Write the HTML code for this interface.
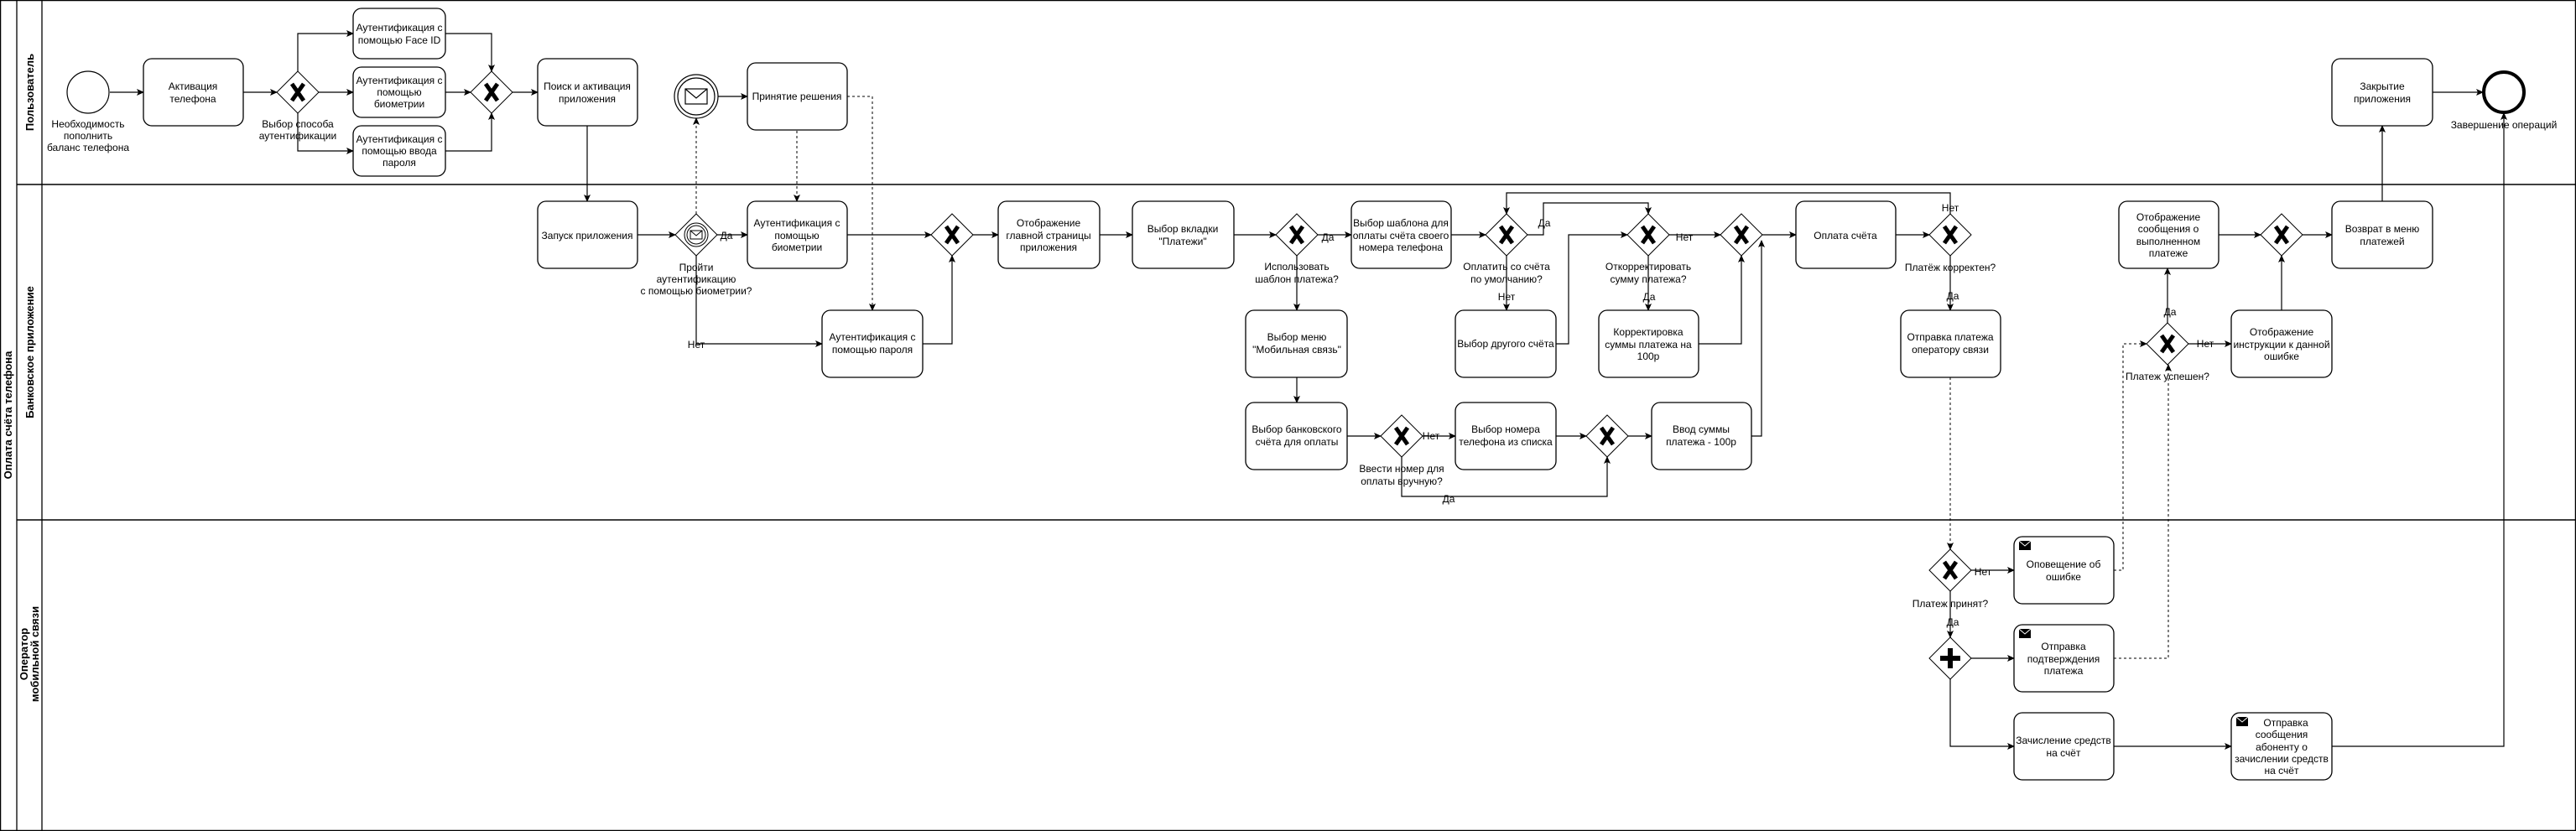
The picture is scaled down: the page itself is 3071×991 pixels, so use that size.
<!DOCTYPE html>
<html><head><meta charset="utf-8"><style>
html,body{margin:0;padding:0;background:#fff}
svg{display:block}
text{font-family:"Liberation Sans",Arial,sans-serif;font-size:12px;fill:#000}
.b{fill:#fff;stroke:#000;stroke-width:1.3}
.l{fill:none;stroke:#000;stroke-width:1.2}
.d{fill:none;stroke:#000;stroke-width:1;stroke-dasharray:3 3}
.g{fill:#fff;stroke:#000;stroke-width:1}
.x{stroke:#000;stroke-width:5;stroke-linecap:butt}
.lane{font-weight:bold;font-size:13px}
</style></head><body>
<svg width="3071" height="991" viewBox="0 0 3071 991" xmlns="http://www.w3.org/2000/svg">
<defs>
<marker id="a" markerWidth="10" markerHeight="10" refX="8" refY="5" orient="auto" markerUnits="userSpaceOnUse"><path d="M0,1 L9,5 L0,9 L2,5 Z" fill="#000"/></marker>
</defs>
<rect x="0.5" y="0.5" width="3070" height="990" fill="none" stroke="#000" stroke-width="1.5"/>
<line x1="20" y1="0" x2="20" y2="991" stroke="#000" stroke-width="1.3"/>
<line x1="50" y1="0" x2="50" y2="991" stroke="#000" stroke-width="1.3"/>
<line x1="20" y1="220" x2="3071" y2="220" stroke="#000" stroke-width="1.5"/>
<line x1="20" y1="620" x2="3071" y2="620" stroke="#000" stroke-width="1.5"/>
<text class="lane" transform="translate(14,495) rotate(-90)" text-anchor="middle">Оплата счёта телефона</text>
<text class="lane" transform="translate(40,110) rotate(-90)" text-anchor="middle">Пользователь</text>
<text class="lane" transform="translate(40,420) rotate(-90)" text-anchor="middle">Банковское приложение</text>
<text class="lane" transform="translate(33,780) rotate(-90)" text-anchor="middle">Оператор</text>
<text class="lane" transform="translate(46,780) rotate(-90)" text-anchor="middle">мобильной связи</text>

<g marker-end="url(#a)">
<path class="l" d="M131,110H171"/>
<path class="l" d="M290,110H330"/>
<path class="l" d="M355,85V40H421"/>
<path class="l" d="M380,110H421"/>
<path class="l" d="M355,135V180H421"/>
<path class="l" d="M531,40H586V85"/>
<path class="l" d="M531,110H561"/>
<path class="l" d="M531,180H586V135"/>
<path class="l" d="M611,110H641"/>
<path class="l" d="M700,150V240"/>
<path class="l" d="M760,280H805"/>
<path class="l" d="M856,115H891"/>
<path class="d" d="M830,255V141"/>
<path class="l" d="M855,280H891"/>
<path class="d" d="M950,156V240"/>
<path class="d" d="M1010,115H1040V370"/>
<path class="l" d="M830,305V410H980"/>
<path class="l" d="M1010,280H1110"/>
<path class="l" d="M1100,410H1135V305"/>
<path class="l" d="M1160,280H1190"/>
<path class="l" d="M1311,280H1350"/>
<path class="l" d="M1471,280H1521"/>
<path class="l" d="M1571,280H1611"/>
<path class="l" d="M1730,280H1771"/>
<path class="l" d="M1821,280H1840V242H1965V255"/>
<path class="l" d="M1796,305V370"/>
<path class="l" d="M1855,410H1870V280H1940"/>
<path class="l" d="M1990,280H2051"/>
<path class="l" d="M1965,305V370"/>
<path class="l" d="M2025,410H2076V305"/>
<path class="l" d="M2101,280H2141"/>
<path class="l" d="M2260,280H2300"/>
<path class="l" d="M2325,255V230H1796V255"/>
<path class="l" d="M2325,305V370"/>
<path class="l" d="M1546,305V370"/>
<path class="l" d="M1546,450V480"/>
<path class="l" d="M1606,520H1646"/>
<path class="l" d="M1696,520H1735"/>
<path class="l" d="M1855,520H1891"/>
<path class="l" d="M1671,545V592H1916V545"/>
<path class="l" d="M1941,520H1969"/>
<path class="l" d="M2088,520H2100V287"/>
<path class="d" d="M2325,450V655"/>
<path class="l" d="M2350,680H2401"/>
<path class="d" d="M2520,680H2531V410H2559"/>
<path class="l" d="M2325,705V760"/>
<path class="l" d="M2350,785H2401"/>
<path class="d" d="M2520,785H2585V435"/>
<path class="l" d="M2325,810V890H2401"/>
<path class="l" d="M2520,890H2660"/>
<path class="l" d="M2780,890H2985V135"/>
<path class="l" d="M2584,385V320"/>
<path class="l" d="M2609,410H2660"/>
<path class="l" d="M2720,370V305"/>
<path class="l" d="M2645,280H2695"/>
<path class="l" d="M2745,280H2780"/>
<path class="l" d="M2840,240V150"/>
<path class="l" d="M2900,110H2960"/>
</g>

<circle cx="105" cy="110" r="25" fill="#fff" stroke="#000" stroke-width="1.2"/>
<text x="105" y="152" text-anchor="middle"><tspan x="105">Необходимость</tspan><tspan x="105" dy="14">пополнить</tspan><tspan x="105" dy="14">баланс телефона</tspan></text>
<circle cx="830" cy="115" r="26" fill="#fff" stroke="#000" stroke-width="1.2"/>
<circle cx="830" cy="115" r="22" fill="#fff" stroke="#000" stroke-width="1.2"/>
<rect x="817" y="106" width="26" height="18" fill="#fff" stroke="#000" stroke-width="1.2"/>
<path d="M817,106 L830,117 L843,106" fill="none" stroke="#000" stroke-width="1.2"/>
<circle cx="2985" cy="110" r="24" fill="#fff" stroke="#000" stroke-width="4"/>
<text x="2985" y="153" text-anchor="middle">Завершение  операций</text>

<g>
<rect class="b" x="171" y="70" width="119" height="80" rx="10"/>
<text text-anchor="middle"><tspan x="230" y="107">Активация</tspan><tspan x="230" dy="15">телефона</tspan></text>
<rect class="b" x="421" y="10" width="110" height="60" rx="10"/>
<text text-anchor="middle"><tspan x="476" y="37">Аутентификация с</tspan><tspan x="476" dy="15">помощью Face ID</tspan></text>
<rect class="b" x="421" y="80" width="110" height="60" rx="10"/>
<text text-anchor="middle"><tspan x="476" y="100">Аутентификация с</tspan><tspan x="476" dy="14">помощью</tspan><tspan x="476" dy="14">биометрии</tspan></text>
<rect class="b" x="421" y="150" width="110" height="60" rx="10"/>
<text text-anchor="middle"><tspan x="476" y="170">Аутентификация с</tspan><tspan x="476" dy="14">помощью ввода</tspan><tspan x="476" dy="14">пароля</tspan></text>
<rect class="b" x="641" y="70" width="119" height="80" rx="10"/>
<text text-anchor="middle"><tspan x="700" y="107">Поиск и активация</tspan><tspan x="700" dy="15">приложения</tspan></text>
<rect class="b" x="891" y="75" width="119" height="80" rx="10"/>
<text text-anchor="middle" x="950" y="119">Принятие решения</text>
<rect class="b" x="641" y="240" width="119" height="80" rx="10"/>
<text text-anchor="middle" x="700" y="285">Запуск приложения</text>
<rect class="b" x="891" y="240" width="119" height="80" rx="10"/>
<text text-anchor="middle"><tspan x="950" y="270">Аутентификация с</tspan><tspan x="950" dy="15">помощью</tspan><tspan x="950" dy="14">биометрии</tspan></text>
<rect class="b" x="980" y="370" width="120" height="80" rx="10"/>
<text text-anchor="middle"><tspan x="1040" y="406">Аутентификация с</tspan><tspan x="1040" dy="15">помощью пароля</tspan></text>
<rect class="b" x="1190" y="240" width="121" height="80" rx="10"/>
<text text-anchor="middle"><tspan x="1250" y="270">Отображение</tspan><tspan x="1250" dy="15">главной страницы</tspan><tspan x="1250" dy="14">приложения</tspan></text>
<rect class="b" x="1350" y="240" width="121" height="80" rx="10"/>
<text text-anchor="middle"><tspan x="1410" y="277">Выбор вкладки</tspan><tspan x="1410" dy="15">"Платежи"</tspan></text>
<rect class="b" x="1611" y="240" width="119" height="80" rx="10"/>
<text text-anchor="middle"><tspan x="1670" y="270">Выбор шаблона для</tspan><tspan x="1670" dy="15">оплаты счёта своего</tspan><tspan x="1670" dy="14">номера телефона</tspan></text>
<rect class="b" x="1485" y="370" width="121" height="80" rx="10"/>
<text text-anchor="middle"><tspan x="1546" y="406">Выбор меню</tspan><tspan x="1546" dy="15">"Мобильная связь"</tspan></text>
<rect class="b" x="1485" y="480" width="121" height="80" rx="10"/>
<text text-anchor="middle"><tspan x="1546" y="516">Выбор банковского</tspan><tspan x="1546" dy="15">счёта для оплаты</tspan></text>
<rect class="b" x="1735" y="370" width="120" height="80" rx="10"/>
<text text-anchor="middle" x="1795" y="414">Выбор другого счёта</text>
<rect class="b" x="1906" y="370" width="119" height="80" rx="10"/>
<text text-anchor="middle"><tspan x="1965" y="400">Корректировка</tspan><tspan x="1965" dy="15">суммы платежа на</tspan><tspan x="1965" dy="14">100р</tspan></text>
<rect class="b" x="1735" y="480" width="120" height="80" rx="10"/>
<text text-anchor="middle"><tspan x="1795" y="516">Выбор номера</tspan><tspan x="1795" dy="15">телефона из списка</tspan></text>
<rect class="b" x="1969" y="480" width="119" height="80" rx="10"/>
<text text-anchor="middle"><tspan x="2028" y="516">Ввод суммы</tspan><tspan x="2028" dy="15">платежа - 100р</tspan></text>
<rect class="b" x="2141" y="240" width="119" height="80" rx="10"/>
<text text-anchor="middle" x="2200" y="285">Оплата счёта</text>
<rect class="b" x="2266" y="370" width="119" height="80" rx="10"/>
<text text-anchor="middle"><tspan x="2325" y="406">Отправка платежа</tspan><tspan x="2325" dy="15">оператору связи</tspan></text>
<rect class="b" x="2526" y="240" width="119" height="80" rx="10"/>
<text text-anchor="middle"><tspan x="2585" y="263">Отображение</tspan><tspan x="2585" dy="14">сообщения о</tspan><tspan x="2585" dy="15">выполненном</tspan><tspan x="2585" dy="14">платеже</tspan></text>
<rect class="b" x="2780" y="240" width="120" height="80" rx="10"/>
<text text-anchor="middle"><tspan x="2840" y="277">Возврат в меню</tspan><tspan x="2840" dy="15">платежей</tspan></text>
<rect class="b" x="2780" y="70" width="120" height="80" rx="10"/>
<text text-anchor="middle"><tspan x="2840" y="107">Закрытие</tspan><tspan x="2840" dy="15">приложения</tspan></text>
<rect class="b" x="2660" y="370" width="120" height="80" rx="10"/>
<text text-anchor="middle"><tspan x="2720" y="400">Отображение</tspan><tspan x="2720" dy="15">инструкции к данной</tspan><tspan x="2720" dy="14">ошибке</tspan></text>
<rect class="b" x="2401" y="640" width="119" height="80" rx="10"/>
<text text-anchor="middle"><tspan x="2460" y="677">Оповещение об</tspan><tspan x="2460" dy="15">ошибке</tspan></text>
<rect class="b" x="2401" y="745" width="119" height="80" rx="10"/>
<text text-anchor="middle"><tspan x="2460" y="775">Отправка</tspan><tspan x="2460" dy="15">подтверждения</tspan><tspan x="2460" dy="14">платежа</tspan></text>
<rect class="b" x="2401" y="850" width="119" height="80" rx="10"/>
<text text-anchor="middle"><tspan x="2460" y="887">Зачисление средств</tspan><tspan x="2460" dy="15">на счёт</tspan></text>
<rect class="b" x="2660" y="850" width="120" height="80" rx="10"/>
<text text-anchor="middle"><tspan x="2725" y="866">Отправка</tspan><tspan x="2720" dy="14">сообщения</tspan><tspan x="2720" dy="15">абоненту о</tspan><tspan x="2720" dy="14">зачислении средств</tspan><tspan x="2720" dy="14">на счёт</tspan></text>
</g>
<g>
<rect x="2407" y="645" width="14" height="11" fill="#000"/><path d="M2407,645 L2414,651 L2421,645" fill="none" stroke="#fff" stroke-width="1"/>
<rect x="2407" y="750" width="14" height="11" fill="#000"/><path d="M2407,750 L2414,756 L2421,750" fill="none" stroke="#fff" stroke-width="1"/>
<rect x="2666" y="855" width="14" height="11" fill="#000"/><path d="M2666,855 L2673,861 L2680,855" fill="none" stroke="#fff" stroke-width="1"/>
</g>

<g>
<polygon class="g" points="355,85 380,110 355,135 330,110"/><path class="x" d="M348,100L362,120M362,100L348,120"/>
<polygon class="g" points="586,85 611,110 586,135 561,110"/><path class="x" d="M579,100L593,120M593,100L579,120"/>
<polygon class="g" points="1135,255 1160,280 1135,305 1110,280"/><path class="x" d="M1128,270L1142,290M1142,270L1128,290"/>
<polygon class="g" points="1546,255 1571,280 1546,305 1521,280"/><path class="x" d="M1539,270L1553,290M1553,270L1539,290"/>
<polygon class="g" points="1796,255 1821,280 1796,305 1771,280"/><path class="x" d="M1789,270L1803,290M1803,270L1789,290"/>
<polygon class="g" points="1965,255 1990,280 1965,305 1940,280"/><path class="x" d="M1958,270L1972,290M1972,270L1958,290"/>
<polygon class="g" points="2076,255 2101,280 2076,305 2051,280"/><path class="x" d="M2069,270L2083,290M2083,270L2069,290"/>
<polygon class="g" points="1671,495 1696,520 1671,545 1646,520"/><path class="x" d="M1664,510L1678,530M1678,510L1664,530"/>
<polygon class="g" points="1916,495 1941,520 1916,545 1891,520"/><path class="x" d="M1909,510L1923,530M1923,510L1909,530"/>
<polygon class="g" points="2325,255 2350,280 2325,305 2300,280"/><path class="x" d="M2318,270L2332,290M2332,270L2318,290"/>
<polygon class="g" points="2720,255 2745,280 2720,305 2695,280"/><path class="x" d="M2713,270L2727,290M2727,270L2713,290"/>
<polygon class="g" points="2584,385 2609,410 2584,435 2559,410"/><path class="x" d="M2577,400L2591,420M2591,400L2577,420"/>
<polygon class="g" points="2325,655 2350,680 2325,705 2300,680"/><path class="x" d="M2318,670L2332,690M2332,670L2318,690"/>
<polygon class="g" points="2325,760 2350,785 2325,810 2300,785"/><path d="M2325,773V797M2313,785H2337" stroke="#000" stroke-width="6"/>
<polygon class="g" points="830,255 855,280 830,305 805,280"/>
<circle cx="830" cy="280" r="14" fill="#fff" stroke="#000" stroke-width="1"/>
<circle cx="830" cy="280" r="11" fill="#fff" stroke="#000" stroke-width="1"/>
<rect x="823" y="275" width="14" height="10" fill="#fff" stroke="#000" stroke-width="1"/>
<path d="M823,275 L830,281 L837,275" fill="none" stroke="#000" stroke-width="1"/>
</g>

<g text-anchor="middle">
<text x="355" y="152"><tspan x="355">Выбор способа</tspan><tspan x="355" dy="14">аутентификации</tspan></text>
<text x="830" y="323"><tspan x="830">Пройти</tspan><tspan x="830" dy="14">аутентификацию</tspan><tspan x="830" dy="14">с помощью биометрии?</tspan></text>
<text x="1546" y="322"><tspan x="1546">Использовать</tspan><tspan x="1546" dy="15">шаблон платежа?</tspan></text>
<text x="1796" y="322"><tspan x="1796">Оплатить со счёта</tspan><tspan x="1796" dy="15">по умолчанию?</tspan></text>
<text x="1965" y="322"><tspan x="1965">Откорректировать</tspan><tspan x="1965" dy="15">сумму платежа?</tspan></text>
<text x="1671" y="563"><tspan x="1671">Ввести номер для</tspan><tspan x="1671" dy="15">оплаты вручную?</tspan></text>
<text x="2325" y="323">Платёж корректен?</text>
<text x="2584" y="453">Платеж успешен?</text>
<text x="2325" y="724">Платеж принят?</text>
</g>
<g style="font-size:10px" text-anchor="middle">
<text x="866" y="285">Да</text>
<text x="830" y="415">Нет</text>
<text x="1583" y="287">Да</text>
<text x="1841" y="270">Да</text>
<text x="1796" y="358">Нет</text>
<text x="2008" y="287">Нет</text>
<text x="1966" y="358">Да</text>
<text x="1706" y="524">Нет</text>
<text x="1727" y="599">Да</text>
<text x="2325" y="252">Нет</text>
<text x="2328" y="357">Да</text>
<text x="2587" y="376">Да</text>
<text x="2629" y="414">Нет</text>
<text x="2364" y="686">Нет</text>
<text x="2328" y="746">Да</text>
</g>
</svg>
</body></html>
